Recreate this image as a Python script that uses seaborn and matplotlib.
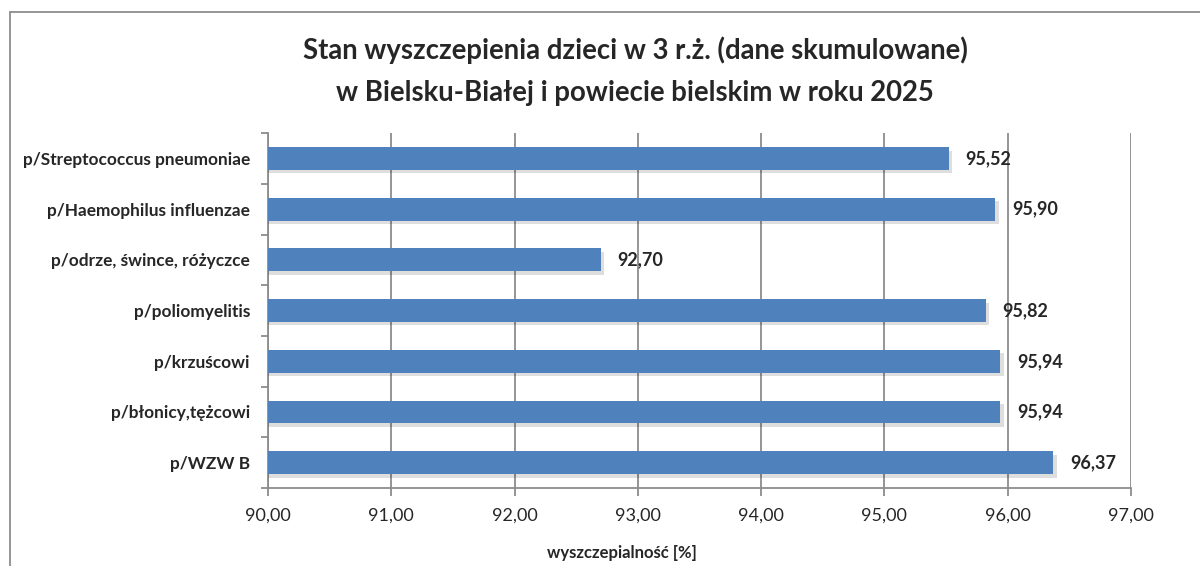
import matplotlib
matplotlib.use("Agg")
import matplotlib.pyplot as plt
import matplotlib.patheffects as pe
from matplotlib.patches import Rectangle
import seaborn as sns
import pandas as pd

categories = [
    "p/Streptococcus pneumoniae",
    "p/Haemophilus influenzae",
    "p/odrze, śwince, różyczce",
    "p/poliomyelitis",
    "p/krzuścowi",
    "p/błonicy,tężcowi",
    "p/WZW B",
]
values = [95.52, 95.90, 92.70, 95.82, 95.94, 95.94, 96.37]
x_ticks = [90, 91, 92, 93, 94, 95, 96, 97]
title = "Stan wyszczepienia dzieci w 3 r.ż. (dane skumulowane)\nw Bielsku-Białej i powiecie bielskim w roku 2025"
xlabel = "wyszczepialność [%]"

sns.set_style("white")
plt.rcParams["font.family"] = ["Lato", "DejaVu Sans"]

df = pd.DataFrame({"cat": categories, "val": values})

fig = plt.figure(figsize=(12, 5.66), dpi=100)
ax = fig.add_axes([0.2233, 0.1378, 0.7192, 0.627])

sns.barplot(data=df, x="val", y="cat", orient="h", color="#4F81BD",
            saturation=1, width=0.45, ax=ax, zorder=3)

for p in ax.patches:
    p.set_path_effects([pe.SimplePatchShadow(offset=(2.5, -2.5), shadow_rgbFace="#000000", alpha=0.13), pe.Normal()])
    p.set_linewidth(0)

ax.set_xlim(90, 97)
ax.set_xticks(x_ticks)
ax.set_xticklabels([f"{t:.2f}".replace(".", ",") for t in x_ticks], fontsize=13)
ax.grid(axis="x", color="#8c8c8c", linewidth=1.3, zorder=0)
ax.set_axisbelow(True)

n = len(categories)
ax.set_ylim(n - 0.5, -0.5)
ax.set_yticks([i + 0.5 for i in range(-1, n)], minor=False)
ax.set_yticklabels([])
ax.set_yticks(range(n), minor=True)
ax.set_yticklabels(categories, minor=True, fontsize=12.4, fontweight="bold")
ax.tick_params(axis="y", which="minor", length=0, pad=13)
ax.tick_params(axis="y", which="major", length=5, width=1.3, color="#8c8c8c", direction="out", left=True)
ax.tick_params(axis="x", length=6, width=1.3, color="#8c8c8c", direction="out", bottom=True, pad=8)

for s in ["top", "right"]:
    ax.spines[s].set_visible(False)
ax.spines["left"].set_color("#8c8c8c")
ax.spines["left"].set_linewidth(1.3)
ax.spines["bottom"].set_color("#8c8c8c")
ax.spines["bottom"].set_linewidth(1.3)

ax.set_ylabel("")
ax.set_xlabel("")

ax.bar_label(ax.containers[0], labels=[f"{v:.2f}".replace(".", ",") for v in values],
             padding=12, fontsize=13, fontweight="bold")

fig.text(622 / 1200, 1 - 553 / 566, xlabel, ha="center", va="center", fontsize=12, fontweight="bold")
fig.text(635 / 1200, 1 - 71 / 566, title, ha="center", va="center", fontsize=19.8, fontweight="bold", linespacing=1.75)

fig.patches.append(Rectangle((10 / 1200, -0.05), 1.2, 1 - 12 / 566 + 0.05, transform=fig.transFigure,
                             fill=False, edgecolor="#8c8c8c", linewidth=1.3))

fig.savefig("out.png", dpi=100)
